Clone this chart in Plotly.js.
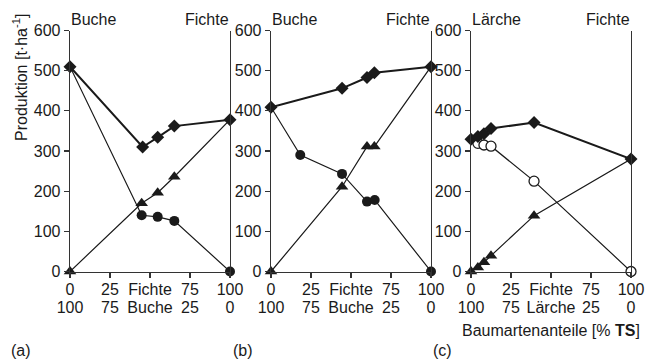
<!DOCTYPE html>
<html>
<head>
<meta charset="utf-8">
<script src="https://cdn.plot.ly/plotly-3.0.1.min.js"></script>
<style>html,body{margin:0;padding:0;background:#fff;}#chart{width:648px;height:362px;}</style>
</head>
<body>
<div id="chart"></div>
<script>
// Panel (a): Buche / Fichte
const aTotX = [0, 45.4, 54.8, 65.2, 100];
const aTotY = [510, 310, 334, 362, 378];
const aFiX  = [0, 44.8, 54.8, 65.2, 100];
const aFiY  = [0, 170, 196, 236, 378];
const aBuX  = [0, 44.8, 54.8, 65.2, 100];
const aBuY  = [510, 140, 136, 126, 0];

// Panel (b): Buche / Fichte
const bTotX = [0, 44.4, 60, 64.6, 100];
const bTotY = [409, 456, 483, 495, 510];
const bBuX  = [0, 18.3, 44.4, 60, 64.8, 100];
const bBuY  = [409, 290, 243, 174, 178, 0];
const bFiX  = [0, 44.4, 60, 64.6, 100];
const bFiY  = [0, 211, 311, 311, 510];

// Panel (c): Lärche / Fichte
const cTotX = [0, 4.3, 8.1, 12.5, 39.4, 100];
const cTotY = [329, 336, 343, 356, 371, 280];
const cLaX  = [0, 4.3, 8.1, 12.5, 39.4, 100];
const cLaY  = [329, 319, 315, 312, 225, 0];
const cFiX  = [0, 4.3, 8.1, 12.5, 39.4, 100];
const cFiY  = [0, 10, 23, 39, 139, 280];

const yTicks = [0, 100, 200, 300, 400, 500, 600];
const xTicks = [0, 25, 50, 75, 100];
const xRow1AB = ["0", "25", "Fichte", "75", "100"];
const xRow2AB = ["100", "75", "Buche", "25", "0"];
const xRow1C  = ["0", "25", "Fichte", "75", "100"];
const xRow2C  = ["100", "75", "Lärche", "25", "0"];

const INK = "#1a1a1a";
const AXC = "#333333";
const FONT = "Liberation Sans, Arial, sans-serif";

// hide a part-series marker where it coincides with the total at a pure stand
function sizes(xs, ys, tx, ty, s) {
  return xs.map((x, i) => {
    const j = tx.indexOf(x);
    if ((x === 0 || x === 100) && j >= 0 && ty[j] === ys[i]) return 0;
    return s;
  });
}

function part(xs, ys, tx, ty, sym, ax, open) {
  const s = sym === "triangle-up" ? 11 : 10;
  return {
    x: xs, y: ys, xaxis: "x" + ax, yaxis: "y" + ax,
    type: "scatter", mode: "lines+markers", cliponaxis: false,
    line: {color: INK, width: 1.2},
    marker: {symbol: sym, size: sizes(xs, ys, tx, ty, s), opacity: 1,
             color: open ? "#ffffff" : INK,
             line: {color: INK, width: open ? 1.3 : 0}},
    showlegend: false, hoverinfo: "x+y"
  };
}
function total(xs, ys, ax) {
  return {
    x: xs, y: ys, xaxis: "x" + ax, yaxis: "y" + ax,
    type: "scatter", mode: "lines+markers", cliponaxis: false,
    line: {color: INK, width: 2},
    marker: {symbol: "diamond", size: 10, color: INK, opacity: 1},
    showlegend: false, hoverinfo: "x+y"
  };
}

const data = [
  part(aFiX, aFiY, aTotX, aTotY, "triangle-up", "", false),
  part(aBuX, aBuY, aTotX, aTotY, "circle", "", false),
  total(aTotX, aTotY, ""),
  part(bFiX, bFiY, bTotX, bTotY, "triangle-up", "2", false),
  part(bBuX, bBuY, bTotX, bTotY, "circle", "2", false),
  total(bTotX, bTotY, "2"),
  part(cFiX, cFiY, cTotX, cTotY, "triangle-up", "3", false),
  part(cLaX, cLaY, cTotX, cTotY, "circle", "3", true),
  total(cTotX, cTotY, "3")
];

const W = 648, H = 362;
const yDom = [(H - 271.5) / H, (H - 30.5) / H];
function xa(l, r, anchor, text) {
  return {
    domain: [l / W, r / W], anchor: anchor, range: [0, 100],
    showgrid: false, zeroline: false, showline: true, linecolor: AXC, linewidth: 1.3,
    ticks: "outside", ticklen: 5, tickwidth: 1.2, tickcolor: AXC,
    tickvals: xTicks, ticktext: text, tickfont: {family: FONT, size: 16, color: INK},
    ticklabelstandoff: -2,
    fixedrange: true
  };
}
// second row of x tick labels (complementary share)
function xa2(l, r, anchor, over, text) {
  return {
    domain: [l / W, r / W], anchor: anchor, overlaying: over, side: "bottom", range: [0, 100],
    showgrid: false, zeroline: false, showline: false, ticks: "",
    tickvals: xTicks, ticktext: text, tickfont: {family: FONT, size: 16, color: INK},
    ticklabelstandoff: 24,
    fixedrange: true
  };
}
function ya(anchor) {
  return {
    domain: yDom, anchor: anchor, range: [0, 600],
    showgrid: false, zeroline: false, showline: true, mirror: true,
    linecolor: AXC, linewidth: 1.3,
    ticks: "outside", ticklen: 5, tickwidth: 1.2, tickcolor: AXC,
    tickvals: yTicks, tickfont: {family: FONT, size: 16, color: INK},
    fixedrange: true
  };
}

const topY = (H - 19) / H;
function lab(text, xref, x, anchor, y) {
  return {text: text, xref: xref, yref: "paper", x: x, y: y, xanchor: anchor, yanchor: "middle",
          showarrow: false, font: {family: FONT, size: 16, color: INK}, borderpad: 0};
}

const layout = {
  width: W, height: H,
  margin: {l: 0, r: 0, t: 0, b: 0},
  paper_bgcolor: "#ffffff", plot_bgcolor: "#ffffff",
  font: {family: FONT, size: 16, color: INK},
  xaxis: xa(70, 230, "y", xRow1AB),
  yaxis: ya("x"),
  xaxis2: xa(271, 431, "y2", xRow1AB),
  yaxis2: ya("x2"),
  xaxis3: xa(471, 631, "y3", xRow1C),
  yaxis3: ya("x3"),
  xaxis4: xa2(70, 230, "y", "x", xRow2AB),
  xaxis5: xa2(271, 431, "y2", "x2", xRow2AB),
  xaxis6: xa2(471, 631, "y3", "x3", xRow2C),
  annotations: [
    {text: "Produktion [t·ha<sup>-1</sup>]", xref: "paper", yref: "paper",
     x: 20 / W, y: (H - 78) / H, xanchor: "center", yanchor: "middle", textangle: -90,
     showarrow: false, font: {family: FONT, size: 16, color: INK}},
    lab("Buche", "x", 0, "left", topY),
    lab("Fichte", "x", 100, "right", topY),
    lab("Buche", "x2", 0, "left", topY),
    lab("Fichte", "x2", 100, "right", topY),
    lab("Lärche", "x3", 0, "left", topY),
    lab("Fichte", "x3", 100, "right", topY),
    lab("Baumartenanteile [% <b>TS</b>]", "x3", 50, "center", (H - 330) / H),
    lab("(a)", "paper", 10 / W, "left", (H - 350) / H),
    lab("(b)", "paper", 232 / W, "left", (H - 350) / H),
    lab("(c)", "paper", 432 / W, "left", (H - 350) / H)
  ]
};

// invisible anchor traces so the second-row axes are drawn
data.push({x: [null], y: [null], xaxis: "x4", yaxis: "y", type: "scatter", showlegend: false, hoverinfo: "skip"});
data.push({x: [null], y: [null], xaxis: "x5", yaxis: "y2", type: "scatter", showlegend: false, hoverinfo: "skip"});
data.push({x: [null], y: [null], xaxis: "x6", yaxis: "y3", type: "scatter", showlegend: false, hoverinfo: "skip"});

Plotly.newPlot("chart", data, layout, {staticPlot: true, displayModeBar: false});
</script>
</body>
</html>
